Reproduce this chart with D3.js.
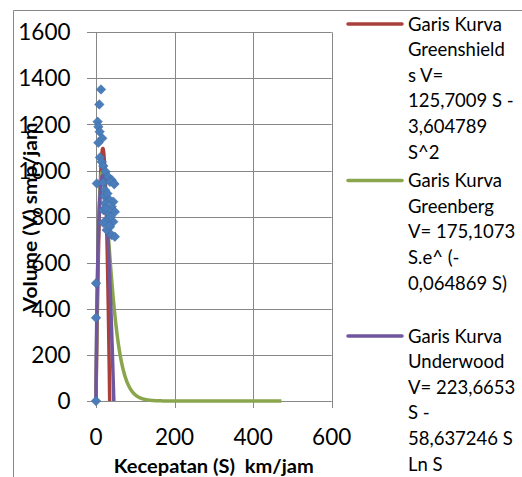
<!DOCTYPE html>
<html>
<head>
<meta charset="utf-8">
<script src="https://cdn.jsdelivr.net/npm/d3@7"></script>
<style>
  html, body { margin: 0; padding: 0; background: #fff; }
  svg { display: block; font-family: Lato, "Open Sans", sans-serif; }
</style>
</head>
<body>
<svg id="chart" width="522" height="477"></svg>
<script>
// Observed speed (km/jam) and volume (smp/jam) pairs
const speedObs = [12.7, 8.5, 4.2, 6, 9.3, 16, 6, 10, 14.4, 18.6, 24.6, 31, 40, 46,
  2, 18.6, 35.6, 46.5, 23, 31, 44, 23, 40, 18.6, 31, 48, 27, 44, 18.6, 35.6, 27, 40, 48,
  21, 29, 37, 25, 33, 0, 0, 0];
const volumeObs = [1352, 1287, 1212, 1190, 1168, 1140, 1121, 1057, 1038, 1020, 995, 973, 959, 944,
  944, 947, 951, 941, 915, 879, 865, 858, 843, 829, 814, 821, 785, 778, 773, 756, 742, 720, 713,
  890, 900, 800, 835, 760, 511, 361, 0];

// Model coefficients as given in the legend
const greenshieldsA = 125.7009, greenshieldsB = 3.604789;
const greenbergA = 175.1073, greenbergB = 0.064869;
const underwoodA = 223.6653, underwoodB = 58.637246;
const greenbergMaxSpeed = 472;

const xTicks = [0, 200, 400, 600];
const yTicks = [0, 200, 400, 600, 800, 1000, 1200, 1400, 1600];

const legendEntries = [
  ["Garis Kurva", "Greenshield", "s V=", "125,7009 S -", "3,604789", "S^2"],
  ["Garis Kurva", "Greenberg", "V= 175,1073", "S.e^ (-", "0,064869 S)"],
  ["Garis Kurva", "Underwood", "V= 223,6653", "S -", "58,637246 S", "Ln S"]
];
const legendColors = ["#A9403C", "#8AA64C", "#70569F"];

const svg = d3.select("#chart");
const grid = "#878787";

// Outer chart frame
svg.append("path").attr("d", "M13.5,477 V10.5 H522")
  .attr("fill", "none").attr("stroke", grid).attr("stroke-width", 1);

const x = d3.scaleLinear().domain([0, 600]).range([96, 331.7]);
const y = d3.scaleLinear().domain([0, 1600]).range([401, 32.3]);

// Grid lines (extending past the axes as tick marks)
svg.append("g").selectAll("line").data(yTicks).join("line")
  .attr("x1", 87).attr("x2", x(600))
  .attr("y1", d => Math.round(y(d)) + 0.5).attr("y2", d => Math.round(y(d)) + 0.5)
  .attr("stroke", grid).attr("stroke-width", 1);
svg.append("g").selectAll("line").data(xTicks).join("line")
  .attr("x1", d => Math.round(x(d)) + 0.5).attr("x2", d => Math.round(x(d)) + 0.5)
  .attr("y1", y(1600)).attr("y2", 408)
  .attr("stroke", grid).attr("stroke-width", 1);

// Tick labels
svg.append("g").selectAll("text").data(yTicks).join("text")
  .attr("x", 70.5).attr("y", d => y(d)).attr("dy", "0.36em")
  .attr("text-anchor", "end").attr("font-size", 22.5).attr("fill", "#000")
  .text(d => d);
svg.append("g").selectAll("text").data(xTicks).join("text")
  .attr("x", d => x(d)).attr("y", 445)
  .attr("text-anchor", "middle").attr("font-size", 22.5).attr("fill", "#000")
  .text(d => d);

// Model curves
const line = d3.line().x(d => x(d[0])).y(d => y(d[1]));
function sample(f, s0, s1, step) {
  const pts = [];
  for (let s = s0; s < s1; s += step) pts.push([s, f(s)]);
  pts.push([s1, f(s1)]);
  return pts;
}
const greenshields = s => greenshieldsA * s - greenshieldsB * s * s;
const greenberg = s => greenbergA * s * Math.exp(-greenbergB * s);
const underwood = s => s === 0 ? 0 : underwoodA * s - underwoodB * s * Math.log(s);

const curves = [
  sample(greenshields, 0, greenshieldsA / greenshieldsB, 0.05),
  sample(greenberg, 0, greenbergMaxSpeed, 0.25),
  sample(underwood, 0, Math.exp(underwoodA / underwoodB), 0.05)
];
svg.append("g").selectAll("path").data(curves).join("path")
  .attr("d", line).attr("fill", "none")
  .attr("stroke", (d, i) => legendColors[i])
  .attr("stroke-width", 3.5).attr("stroke-linejoin", "round");

// Observed points as diamonds
const diamond = { draw(ctx, size) { const r = Math.sqrt(size) / 2;
  ctx.moveTo(0, -r); ctx.lineTo(r, 0); ctx.lineTo(0, r); ctx.lineTo(-r, 0); ctx.closePath(); } };
svg.append("g").selectAll("path").data(speedObs.map((s, i) => [s, volumeObs[i]])).join("path")
  .attr("d", d3.symbol(diamond, 90))
  .attr("transform", d => `translate(${x(d[0])},${y(d[1])})`)
  .attr("fill", "#4A7DBA").attr("stroke", "#3E6EAA").attr("stroke-width", 0.6);

// Axis titles
svg.append("text").attr("x", 213.8).attr("y", 472.5)
  .attr("text-anchor", "middle").attr("font-size", 19.5).attr("font-weight", "bold")
  .attr("fill", "#000").attr("xml:space", "preserve")
  .attr("textLength", 200).attr("lengthAdjust", "spacingAndGlyphs")
  .text("Kecepatan (S)  km/jam");
svg.append("text").attr("transform", "translate(37,217) rotate(-90)")
  .attr("text-anchor", "middle").attr("font-size", 19.5).attr("font-weight", "bold")
  .attr("fill", "#000")
  .attr("textLength", 189).attr("lengthAdjust", "spacingAndGlyphs")
  .text("Volume (V) smp/jam");

// Legend
const rowH = 25.6;
const entryTop = [24, 180.5, 336];
const lg = svg.append("g").selectAll("g").data(legendEntries).join("g")
  .attr("transform", (d, i) => `translate(0,${entryTop[i]})`);
lg.append("line").attr("x1", 348).attr("x2", 402).attr("y1", 0).attr("y2", 0)
  .attr("stroke", (d, i) => legendColors[i]).attr("stroke-width", 3.5).attr("stroke-linecap", "round");
lg.selectAll("text").data(d => d).join("text")
  .attr("x", 408).attr("y", (d, j) => j * rowH).attr("dy", "0.36em")
  .attr("font-size", 18.5).attr("fill", "#000").text(d => d);
</script>
</body>
</html>
